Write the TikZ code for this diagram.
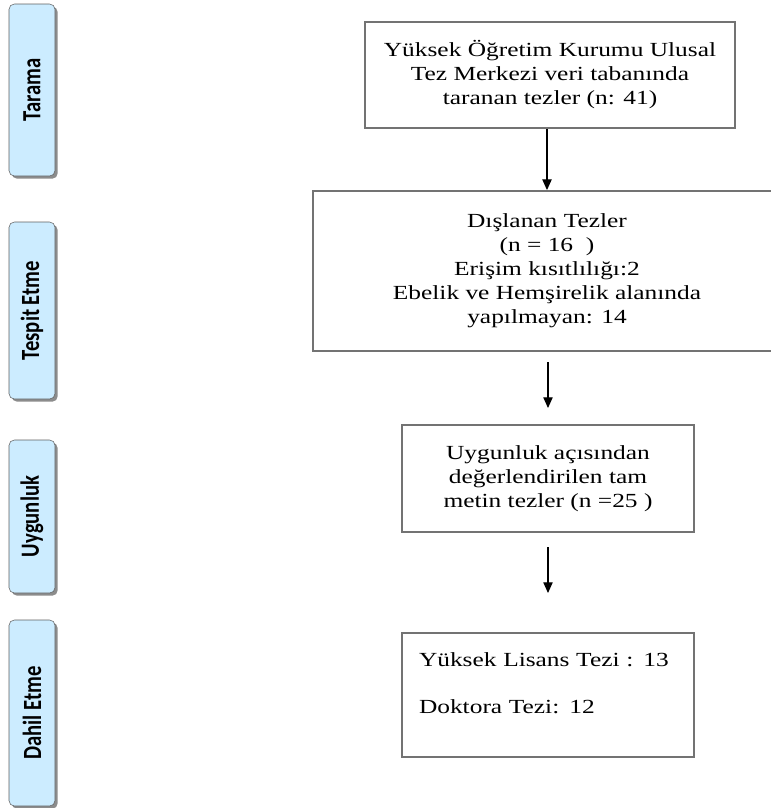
\documentclass[tikz,border=0pt]{standalone}
\usepackage{fontspec}
\setmainfont[FakeStretch=1.27]{Liberation Serif}
\newfontfamily\tabfont{Carlito}
\usetikzlibrary{arrows.meta,shadows}

\definecolor{tabblue}{RGB}{204,236,255}
\definecolor{tabline}{RGB}{95,95,95}

\newcommand{\tablabel}[1]{\rotatebox{90}{\scalebox{1}[1.27]{\tabfont\bfseries\fontsize{15.5}{18}\selectfont #1}}}

\tikzset{
  tab/.style={draw=tabline, fill=tabblue, rounded corners=4pt, minimum width=34.5pt, inner sep=0pt,
    drop shadow={shadow xshift=2pt, shadow yshift=-2pt, fill=black!45, opacity=1}},
  box/.style={draw=black!55, line width=1.4pt, align=center, inner sep=0pt,
    font=\fontsize{15}{18}\selectfont},
  arr/.style={-{Triangle[length=8pt,width=7pt]}, line width=0.8pt}
}

\begin{document}
\begin{tikzpicture}[x=0.75pt, y=-0.75pt]
                        \useasboundingbox (0,0) rectangle (771,808);
                        \clip (0,0) rectangle (771,808);
                        % side tabs
                        \node[tab, minimum height=129pt] (tarama) at (32,90) {\tablabel{Tarama}};
                        \node[tab, minimum height=132.75pt] (tespit) at (32,310.5) {\tablabel{Tespit Etme}};
                        \node[tab, minimum height=114.75pt] (uygunluk) at (32,516.5) {\tablabel{Uygunluk}};
                        \node[tab, minimum height=139.5pt] (dahil) at (32,713) {\tablabel{Dahil Etme}};
                        % flow boxes
                        \node[box, minimum width=277.5pt, minimum height=79.5pt] (taranan) at (550,75)
                              {Yüksek Öğretim Kurumu Ulusal\\Tez Merkezi veri tabanında\\taranan tezler (n: 41)};
                        \node[box, minimum width=351pt, minimum height=120pt] (dislanan) at (547,271)
                              {Dışlanan Tezler\\(n = 16\ \ )\\Erişim kısıtlılığı:2\\Ebelik ve Hemşirelik alanında\\yapılmayan: 14};
                        \node[box, minimum width=219pt, minimum height=80.25pt] (uygun) at (548,478.5)
                              {Uygunluk açısından\\değerlendirilen tam\\metin tezler (n =25 )};
                        \node[box, align=left, minimum width=219pt, minimum height=93pt, text width=193.5pt] (dahiltez) at (548,695)
                              {Yüksek Lisans Tezi : 13\\[17pt]Doktora Tezi: 12\\ \mbox{}};
                        % arrows
                        \coordinate (a2) at (548,362);
                        \coordinate (b2) at (548,408);
                        \coordinate (a3) at (548,547);
                        \coordinate (b3) at (548,593);
                        \draw[arr] (taranan.south -| dislanan.north) -- (dislanan.north);
                        \draw[arr] (a2) -- (b2);
                        \draw[arr] (a3) -- (b3);
                  \end{tikzpicture}
\end{document}
